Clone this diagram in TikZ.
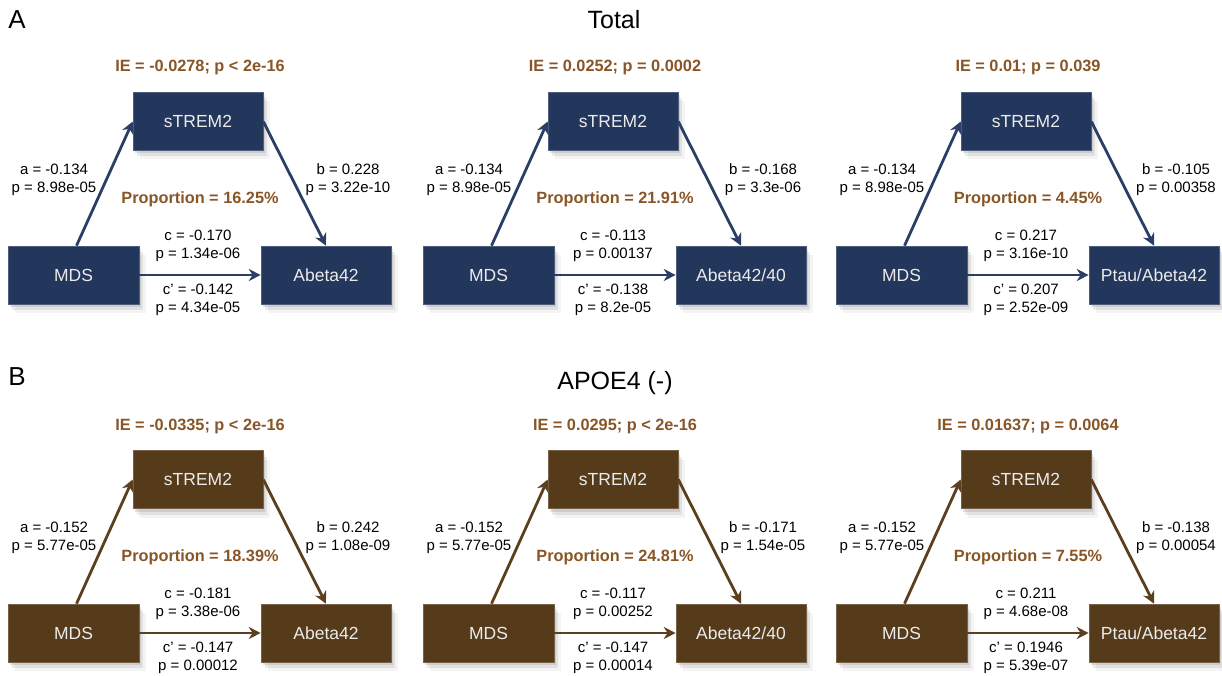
\documentclass[tikz,border=0pt]{standalone}
\usepackage{fontspec}
\setmainfont{Liberation Sans}
\usetikzlibrary{arrows.meta,shadows}

\definecolor{totalbox}{RGB}{35,54,91}
\definecolor{totalline}{RGB}{42,62,102}
\definecolor{apoebox}{RGB}{86,59,27}
\definecolor{apoeline}{RGB}{91,63,31}
\definecolor{ietext}{RGB}{136,86,38}

\tikzset{
    totalrow/.code={\colorlet{boxcol}{totalbox}\colorlet{linecol}{totalline}},
    apoerow/.code={\colorlet{boxcol}{apoebox}\colorlet{linecol}{apoeline}},
    varbox/.style={fill=boxcol, draw=boxcol!80!white, line width=0.6pt,
        minimum width=130pt, minimum height=58pt, text=white!92!black,
        font=\fontsize{17.5}{20}\selectfont,
        drop shadow={shadow xshift=2pt, shadow yshift=-3pt, opacity=0.22},
        drop shadow={shadow xshift=4pt, shadow yshift=-6pt, opacity=0.16},
        drop shadow={shadow xshift=7pt, shadow yshift=-9pt, opacity=0.09}},
    effarrow/.style={draw=linecol, line width=2.8pt, -{Stealth[length=12pt,width=12pt]}},
    eff/.style={font=\fontsize{15}{18}\selectfont, align=center},
    hilite/.style={font=\fontsize{16.3}{19}\selectfont\bfseries, text=ietext},
    headline/.style={font=\fontsize{25}{30}\selectfont, anchor=base}
}

% one mediation triangle: #1 scope options, #2 outcome, #3 IE, #4 proportion,
% #5-#8 path labels a, b, c, c'
\newcommand{\medpanel}[8]{%
    \begin{scope}[#1]
        \node[varbox] (med) at (198,121.5) {sTREM2};
        \node[varbox, minimum width=131pt] (mds) at (73.5,275) {MDS};
        \node[varbox] (out) at (326,275) {#2};
        \node[hilite] (ie) at (200,68) {#3};
        \node[hilite] (prop) at (200,199) {#4};
        \node[eff] (alab) at (54,180) {#5};
        \node[eff] (blab) at (348,180) {#6};
        \node[eff] (clab) at (198,246) {#7};
        \node[eff] (cplab) at (198,300) {#8};
        \draw[effarrow] ([xshift=3pt]mds.north) -- (med.west);
        \draw[effarrow] (med.east) -- (out.north);
        \draw[effarrow] (mds.east) -- (out.west);
    \end{scope}}

\begin{document}
\begin{tikzpicture}[x=1pt, y=-1pt]
    \useasboundingbox (0,0) rectangle (1222,676);

    % Panel headings
    \node[headline, font=\fontsize{26}{30}\selectfont] (pa) at (17,29) {A};
    \node[headline] (ttotal) at (614,29) {Total};
    \node[headline, font=\fontsize{26}{30}\selectfont] (pb) at (17,385) {B};
    \node[headline] (tapoe) at (615,389) {APOE4 (-)};

    % Row A - total sample
    \medpanel{totalrow, name prefix=a1-}{Abeta42}
        {IE = -0.0278; p < 2e-16}{Proportion = 16.25\%}
        {a = -0.134\\p = 8.98e-05}{b = 0.228\\p = 3.22e-10}
        {c = -0.170\\p = 1.34e-06}{c' = -0.142\\p = 4.34e-05}
    \medpanel{totalrow, name prefix=a2-, shift={(415,0)}}{Abeta42/40}
        {IE = 0.0252; p = 0.0002}{Proportion = 21.91\%}
        {a = -0.134\\p = 8.98e-05}{b = -0.168\\p = 3.3e-06}
        {c = -0.113\\p = 0.00137}{c' = -0.138\\p = 8.2e-05}
    \medpanel{totalrow, name prefix=a3-, shift={(828,0)}}{Ptau/Abeta42}
        {IE = 0.01; p = 0.039}{Proportion = 4.45\%}
        {a = -0.134\\p = 8.98e-05}{b = -0.105\\p = 0.00358}
        {c = 0.217\\p = 3.16e-10}{c' = 0.207\\p = 2.52e-09}

    % Row B - APOE4 non-carriers
    \medpanel{apoerow, name prefix=b1-, shift={(0,358)}}{Abeta42}
        {IE = -0.0335; p < 2e-16}{Proportion = 18.39\%}
        {a = -0.152\\p = 5.77e-05}{b = 0.242\\p = 1.08e-09}
        {c = -0.181\\p = 3.38e-06}{c' = -0.147\\p = 0.00012}
    \medpanel{apoerow, name prefix=b2-, shift={(415,358)}}{Abeta42/40}
        {IE = 0.0295; p < 2e-16}{Proportion = 24.81\%}
        {a = -0.152\\p = 5.77e-05}{b = -0.171\\p = 1.54e-05}
        {c = -0.117\\p = 0.00252}{c' = -0.147\\p = 0.00014}
    \medpanel{apoerow, name prefix=b3-, shift={(828,358)}}{Ptau/Abeta42}
        {IE = 0.01637; p = 0.0064}{Proportion = 7.55\%}
        {a = -0.152\\p = 5.77e-05}{b = -0.138\\p = 0.00054}
        {c = 0.211\\p = 4.68e-08}{c' = 0.1946\\p = 5.39e-07}
\end{tikzpicture}
\end{document}
